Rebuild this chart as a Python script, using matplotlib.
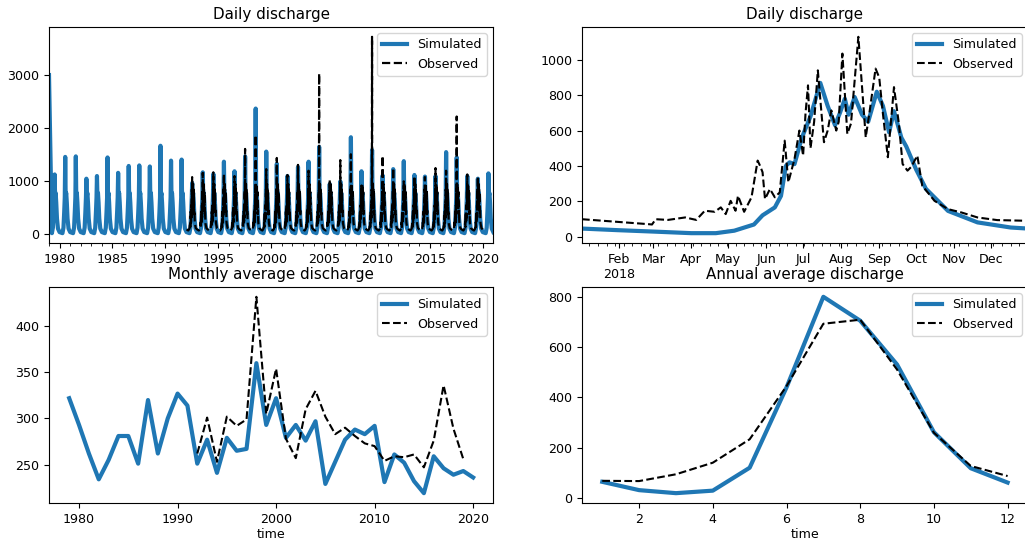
import numpy as np
import matplotlib
matplotlib.use("Agg")
import matplotlib.pyplot as plt
import matplotlib.dates as mdates

plt.rcParams["font.size"] = 9.1

SIM_COLOR = "#1f77b4"

# --- daily record 1979-2020 (one hydrograph per year, peaks)
YEARS = list(range(1979, 2021))
SIM_PEAK = [1130, 1460, 1470, 1050, 1100, 1450, 1160, 1290, 1300, 1280, 1670,
            1390, 1410, 970, 1170, 1140, 1370, 1190, 1470, 2370, 1560, 1330,
            1100, 1270, 1370, 1650, 950, 1000, 1830, 1190, 1590, 1110, 1230,
            1380, 1120, 1090, 1100, 1550, 1450, 1100, 1050, 1150]
SIM_START_VALUE = 3000

OBS_YEARS = list(range(1992, 2020))
OBS_PEAK = [1080, 1160, 1170, 1140, 1100, 1610, 1870, 1230, 1440, 1120, 1310,
            1200, 3030, 1030, 1400, 1510, 920, 3720, 1480, 1250, 1000, 1100,
            1080, 1250, 1200, 2220, 1130, 1090]

# typical within-year shape (day of year, discharge); None marks the yearly peak
SIM_SHAPE_DAYS = [0, 100, 135, 160, 180, 195, 210, 230, 250, 275, 310, 364]
SIM_SHAPE_VALUES = [45, 25, 130, 420, 700, None, 720, 780, 600, 300, 110, 45]
OBS_SHAPE_DAYS = [0, 60, 100, 122, 130, 142, 150, 156, 160, 166, 172, 178,
                  184, 188, 194, 199, 203, 208, 213, 218, 224, 230, 236, 242,
                  248, 254, 260, 266, 274, 282, 290, 320, 364]
OBS_SHAPE_VALUES = [95, 75, 110, 230, 140, 430, 220, 360, 250, 550, 320, 600,
                    850, 500, None, 540, 720, 580, 900, 580, 950, 560, 850,
                    700, 450, 800, 420, 380, 450, 260, 200, 120, 95]

# --- daily discharge 2018 (day offset from 1 Jan, value)
SIM_2018_DAYS = [1, 30, 59, 90, 110, 125, 141, 148, 158, 163, 167, 170, 174,
                 180, 187, 195, 201, 207, 211, 215, 218, 223, 229, 234, 241,
                 246, 251, 255, 261, 265, 273, 281, 299, 323, 350, 364]
SIM_2018 = [45, 36, 28, 19, 19, 33, 68, 120, 165, 230, 400, 420, 410, 560,
            680, 870, 740, 630, 700, 780, 690, 790, 690, 650, 820, 740, 590,
            710, 560, 510, 380, 270, 145, 80, 51, 45]
OBS_2018_DAYS = [1, 55, 58, 61, 71, 85, 94, 101, 109, 114, 118, 122, 126, 128,
                 133, 139, 144, 146, 148, 150, 154, 158, 162, 166, 169, 174,
                 178, 181, 183, 185, 187, 190, 193, 198, 201, 204, 208, 210,
                 213, 217, 220, 226, 232, 235, 240, 243, 246, 250, 255, 259,
                 262, 266, 269, 274, 278, 288, 299, 310, 323, 339, 364]
OBS_2018 = [98, 70, 68, 98, 94, 108, 94, 146, 140, 165, 127, 202, 146, 231,
            140, 222, 430, 400, 364, 212, 269, 222, 250, 543, 307, 439, 600,
            458, 700, 856, 500, 650, 941, 534, 600, 714, 600, 650, 1036, 581,
            640, 1131, 562, 700, 951, 900, 695, 449, 846, 638, 411, 373, 394,
            458, 288, 202, 155, 136, 108, 93, 89]
MONTH_LABELS = ["Feb\n2018", "Mar", "Apr", "May", "Jun", "Jul", "Aug", "Sep",
                "Oct", "Nov", "Dec"]

# --- yearly means
SIM_ANNUAL = [322, 293, 262, 234, 255, 281, 281, 251, 320, 262, 300, 327, 314,
              251, 277, 241, 279, 265, 267, 360, 293, 322, 279, 293, 276, 297,
              229, 253, 277, 288, 283, 292, 231, 261, 252, 232, 219, 259, 246,
              239, 243, 236]
OBS_ANNUAL = [262, 301, 253, 302, 292, 299, 432, 305, 354, 278, 257, 310, 330,
              302, 283, 290, 281, 273, 270, 254, 259, 258, 261, 247, 276, 336,
              289, 256]

# --- mean per calendar month
MONTHS = list(range(1, 13))
SIM_MONTHLY = [65, 32, 20, 30, 121, 440, 800, 705, 531, 262, 119, 62]
OBS_MONTHLY = [69, 68, 95, 141, 234, 445, 693, 709, 511, 260, 128, 88]


def build_series(years, peaks, shape_days, shape_values):
    dates, values = [], []
    for year, peak in zip(years, peaks):
        start = np.datetime64(f"{year}-01-01")
        for d, v in zip(shape_days, shape_values):
            dates.append(start + np.timedelta64(d, "D"))
            values.append(peak if v is None else v)
    return np.array(dates), np.array(values, dtype=float)


def add_legend(ax):
    ax.legend(loc="upper right")


def main():
    fig = plt.figure(figsize=(10.25, 5.42), dpi=100)
    w = 0.4335
    ax_tl = fig.add_axes([0.0478, 0.5517, w, 0.3985])
    ax_tr = fig.add_axes([0.5678, 0.5517, w + 0.0015, 0.3985])
    ax_bl = fig.add_axes([0.0478, 0.072, w, 0.3985])
    ax_br = fig.add_axes([0.5678, 0.072, w + 0.0015, 0.3985])

    # top left
    sim_dates, sim_vals = build_series(YEARS, SIM_PEAK, SIM_SHAPE_DAYS, SIM_SHAPE_VALUES)
    sim_vals[0] = SIM_START_VALUE
    obs_dates, obs_vals = build_series(OBS_YEARS, OBS_PEAK, OBS_SHAPE_DAYS, OBS_SHAPE_VALUES)
    ax_tl.plot(sim_dates, sim_vals, color=SIM_COLOR, lw=3, label="Simulated")
    ax_tl.plot(obs_dates, obs_vals, "k--", lw=1.6, label="Observed")
    ax_tl.set_xlim(sim_dates[0], sim_dates[-1])
    ax_tl.xaxis.set_major_locator(mdates.YearLocator(5))
    ax_tl.xaxis.set_minor_locator(mdates.YearLocator(1))
    ax_tl.xaxis.set_major_formatter(mdates.DateFormatter("%Y"))
    ax_tl.set_yticks([0, 1000, 2000, 3000])
    ax_tl.set_title("Daily discharge")
    add_legend(ax_tl)

    # top right
    start = np.datetime64("2018-01-01")
    d_sim = start + np.array(SIM_2018_DAYS).astype("timedelta64[D]")
    d_obs = start + np.array(OBS_2018_DAYS).astype("timedelta64[D]")
    ax_tr.plot(d_sim, SIM_2018, color=SIM_COLOR, lw=3, label="Simulated")
    ax_tr.plot(d_obs, OBS_2018, "k--", lw=1.5, label="Observed")
    ax_tr.set_xlim(d_sim[0], d_sim[-1])
    month_ticks = [np.datetime64(f"2018-{m:02d}-01") for m in range(2, 13)]
    ax_tr.set_xticks(month_ticks)
    ax_tr.set_xticklabels(MONTH_LABELS)
    ax_tr.xaxis.set_minor_locator(mdates.WeekdayLocator(byweekday=mdates.MO))
    ax_tr.set_title("Daily discharge")
    add_legend(ax_tr)

    # bottom left
    ax_bl.plot(YEARS, SIM_ANNUAL, color=SIM_COLOR, lw=3, label="Simulated")
    ax_bl.plot(OBS_YEARS, OBS_ANNUAL, "k--", lw=1.5, label="Observed")
    ax_bl.set_title("Monthly average discharge")
    ax_bl.set_xlabel("time", labelpad=2)
    add_legend(ax_bl)

    # bottom right
    ax_br.plot(MONTHS, SIM_MONTHLY, color=SIM_COLOR, lw=3, label="Simulated")
    ax_br.plot(MONTHS, OBS_MONTHLY, "k--", lw=1.5, label="Observed")
    ax_br.set_title("Annual average discharge")
    ax_br.set_xlabel("time", labelpad=2)
    add_legend(ax_br)

    fig.savefig("out.png", dpi=100)
    plt.close(fig)


if __name__ == "__main__":
    main()
